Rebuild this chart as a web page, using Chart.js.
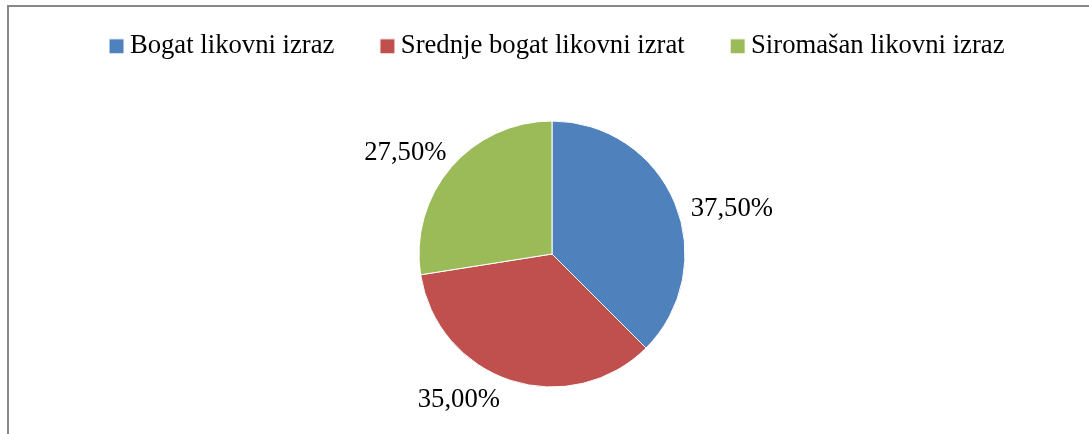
<!DOCTYPE html>
<html><head><meta charset="utf-8">
<script src="https://cdn.jsdelivr.net/npm/chart.js@4/dist/chart.umd.min.js"></script>
<style>
html,body{margin:0;padding:0;background:#fff;overflow:hidden;width:1089px;height:434px;position:relative}
#frame{position:absolute;left:7px;top:5px;width:1200px;height:600px;border-left:2px solid #888;border-top:2px solid #888;box-sizing:border-box}
#wrap{position:absolute;left:0;top:-20px;width:1089px;height:480px}
</style></head><body>
<div id="frame"></div>
<div id="wrap"><canvas id="c" width="1089" height="480"></canvas></div>
<script>
const categories = ['Bogat likovni izraz', 'Srednje bogat likovni izrat', 'Siromašan likovni izraz'];
const values = [37.5, 35.0, 27.5];
const fmt = v => v.toFixed(2).replace('.', ',') + '%';

const arcLabels = {
  id: 'arcLabels',
  afterDatasetsDraw(chart, args, opts) {
    const ctx = chart.ctx;
    const meta = chart.getDatasetMeta(0);
    ctx.save();
    ctx.font = opts.font;
    ctx.fillStyle = opts.color;
    ctx.textAlign = 'center';
    ctx.textBaseline = 'alphabetic';
    meta.data.forEach((arc, i) => {
      const p = arc.getProps(['x', 'y', 'startAngle', 'endAngle', 'outerRadius'], true);
      const mid = (p.startAngle + p.endAngle) / 2;
      const ex = p.x + Math.cos(mid) * p.outerRadius;
      const ey = p.y + Math.sin(mid) * p.outerRadius;
      const o = opts.offsets[i];
      ctx.fillText(fmt(values[i]), ex + o[0], ey + o[1]);
    });
    ctx.restore();
  }
};

new Chart(document.getElementById('c'), {
  type: 'pie',
  data: {
    labels: categories,
    datasets: [{
      data: values,
      backgroundColor: ['#4F81BD', '#C0504D', '#9BBB59'],
      borderColor: '#ffffff',
      borderWidth: 1,
      radius: 133
    }]
  },
  options: {
    responsive: false,
    animation: false,
    devicePixelRatio: 1,
    layout: { padding: { left: 32, right: 0, top: 0, bottom: 21.7 } },
    plugins: {
      tooltip: { enabled: false },
      title: { display: true, position: 'right', text: '', padding: 0, font: { size: 17, lineHeight: 1 } },
      legend: {
        position: 'top',
        align: 'center',
        labels: {
          font: { family: 'Liberation Serif', size: 26.7 },
          color: '#000',
          usePointStyle: true,
          pointStyle: 'rect',
          boxWidth: 0.01,
          boxHeight: 15,
          padding: 53
        }
      },
      arcLabels: {
        font: '26.7px "Liberation Serif"',
        color: '#000',
        offsets: [[57, 13], [-52, 27], [-45.5, -8]]
      }
    }
  },
  plugins: [arcLabels]
});
</script>
</body></html>
